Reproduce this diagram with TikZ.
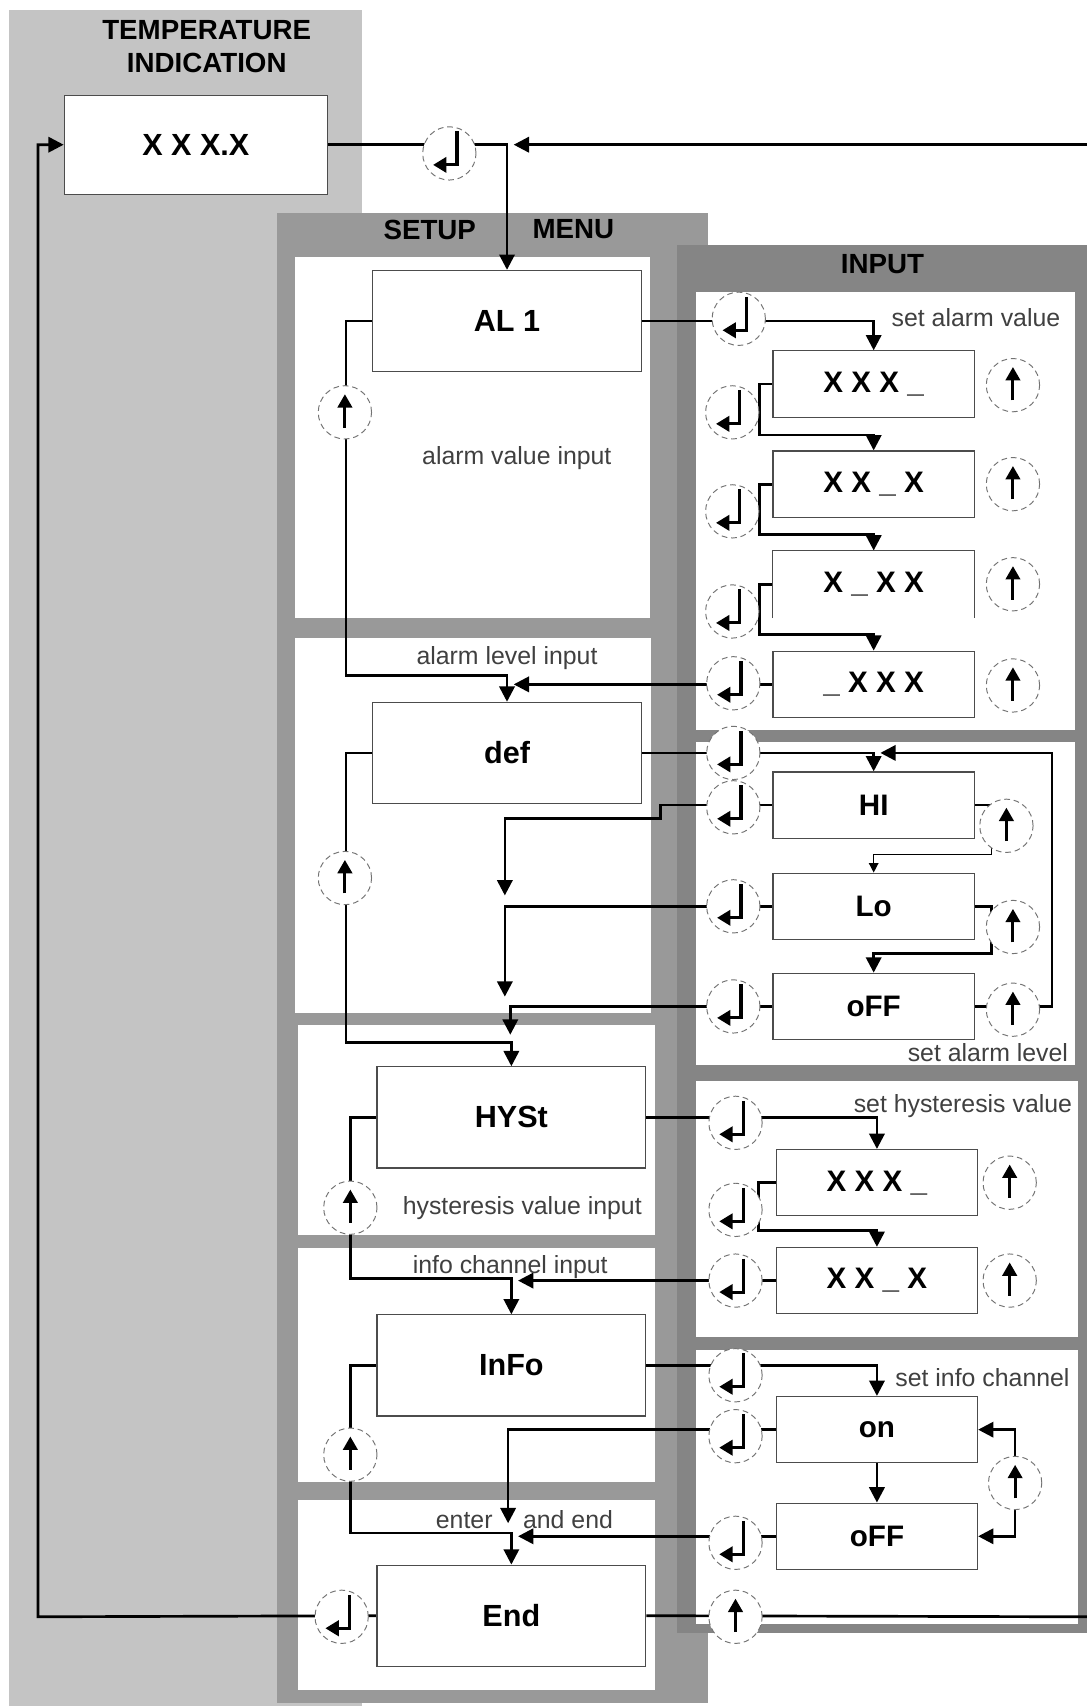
\documentclass[tikz,border=0pt]{standalone}
\usepackage{fontspec}
\setmainfont{Liberation Sans}
\usetikzlibrary{arrows.meta}
\pgfdeclarelayer{panels}
\pgfdeclarelayer{wires}
\pgfsetlayers{panels,wires,main}
\tikzset{
  display/.style={draw=black!70, line width=0.6pt, fill=white, inner sep=0pt,
    minimum width=3.7cm, minimum height=1.22cm, font=\bfseries\fontsize{15.5}{17}\selectfont},
  menubox/.style={display, minimum width=4.94cm, minimum height=1.86cm, font=\bfseries\fontsize{16}{18}\selectfont},
  button/.style={circle, draw=black!55, densely dashed, line width=0.5pt, fill=white,
    minimum size=0.98cm, inner sep=0pt},
  enterkey/.style={button, path picture={
      \draw[solid, black, line width=1.6pt, -{Triangle[length=7pt,width=8pt]}]
        ([shift={(4pt,11.5pt)}]path picture bounding box.center) -- ++(0,-17.5pt) -- ++(-12.5pt,0);}},
  upkey/.style={button, path picture={
      \draw[solid, black, line width=1.6pt, -{Triangle[length=7pt,width=7.5pt]}]
        ([shift={(0,-8pt)}]path picture bounding box.center) -- ++(0,17.5pt);}},
  wire/.style={line width=1.4pt},
  arr/.style={wire, -{Triangle[length=8pt,width=8pt]}},
  thinarr/.style={line width=0.7pt, -{Triangle[length=5pt,width=5pt]}},
  caption/.style={text=black!75, font=\fontsize{13}{15}\selectfont, inner sep=0pt},
  heading/.style={font=\bfseries\fontsize{14.5}{17}\selectfont, inner sep=0pt},
}
\begin{document}
\begin{tikzpicture}[x=0.02cm, y=-0.02cm]
\useasboundingbox (0,0) rectangle (999,1568);
% background panels
\begin{pgfonlayer}{panels}
  \fill[black!23] (8,9) rectangle (333,1568);
  \fill[black!40] (255,196) rectangle (651,1565);
  \fill[black!48] (622,225) rectangle (999,1501);
  \fill[white] (271,236) rectangle (597,568);
  \fill[white] (271,586) rectangle (598,931);
  \fill[white] (274,942) rectangle (602,1135);
  \fill[white] (274,1147) rectangle (602,1362);
  \fill[white] (274,1379) rectangle (602,1553);
  \fill[white] (640,268) rectangle (988,671);
  \fill[white] (640,682) rectangle (988,979);
  \fill[white] (640,994) rectangle (991,1229);
  \fill[white] (640,1241) rectangle (991,1493);
\end{pgfonlayer}

\node[heading, align=center] (title) at (190,43) {TEMPERATURE\\INDICATION};
\node[heading] (setup) at (395,211) {SETUP};
\node[heading] (menu) at (527,211) {MENU};
\node[heading] (input) at (811,243) {INPUT};

% menu displays
\node[menubox, minimum width=4.84cm, minimum height=1.82cm] (temp) at (180,133) {X X X.X};
\node[menubox] (al1) at (466,295) {AL 1};
\node[menubox] (def) at (466,692) {def};
\node[menubox] (hyst) at (470,1027) {HYSt};
\node[menubox] (info) at (470,1255) {InFo};
\node[menubox] (fin) at (470,1485) {End};

% input displays
\node[display] (av1) at (803,353) {X X X \_};
\node[display] (av2) at (803,445) {X X \_ X};
\node[display, draw=none] (av3) at (803,537) {X \_ X X};
\draw[black!70, line width=0.6pt] (av3.south west) |- (av3.north east) -- (av3.south east);
\node[display] (av4) at (803,629) {\_ X X X};
\node[display] (hi) at (803,740) {HI};
\node[display] (lo) at (803,833) {Lo};
\node[display] (aloff) at (803,925) {oFF};
\node[display] (hv1) at (806,1087) {X X X \_};
\node[display] (hv2) at (806,1177) {X X \_ X};
\node[display] (on) at (806,1314) {on};
\node[display] (inoff) at (806,1412) {oFF};

% keys
\node[enterkey] (k0) at (413,141) {};
\node[upkey] (u1) at (317,379) {};
\node[upkey] (u2) at (317,807) {};
\node[upkey] (u3) at (322,1110) {};
\node[upkey] (u4) at (322,1337) {};
\node[enterkey] (kend) at (314,1486) {};
\node[enterkey] (ka1) at (679,293) {};
\node[enterkey] (ka2) at (673,379) {};
\node[enterkey] (ka3) at (673,470) {};
\node[enterkey] (ka4) at (673,562) {};
\node[enterkey] (ka5) at (674,628) {};
\node[upkey] (ua1) at (931,354) {};
\node[upkey] (ua2) at (931,445) {};
\node[upkey] (ua3) at (931,537) {};
\node[upkey] (ua4) at (931,630) {};
\node[enterkey] (kl1) at (674,692) {};
\node[enterkey] (kl2) at (674,742) {};
\node[enterkey] (kl3) at (674,833) {};
\node[enterkey] (kl4) at (674,925) {};
\node[upkey] (ul1) at (925,759) {};
\node[upkey] (ul2) at (931,852) {};
\node[upkey] (ul3) at (931,928) {};
\node[enterkey] (kh1) at (676,1032) {};
\node[enterkey] (kh2) at (676,1112) {};
\node[enterkey] (kh3) at (676,1177) {};
\node[upkey] (uh1) at (928,1087) {};
\node[upkey] (uh2) at (928,1177) {};
\node[enterkey] (ki1) at (676,1264) {};
\node[enterkey] (ki2) at (676,1320) {};
\node[enterkey] (ki3) at (676,1418) {};
\node[upkey] (ui1) at (933,1363) {};
\node[upkey] (ui2) at (676,1486) {};

% captions
\node[caption] (lav) at (475,421) {alarm value input};
\node[caption] (lal) at (466,605) {alarm level input};
\node[caption] (lhv) at (480,1110) {hysteresis value input};
\node[caption] (lic) at (469,1165) {info channel input};
\node[caption] (len) at (482,1397) {enter\hspace{16pt}and end};
\node[caption] (sav) at (897,292) {set alarm value};
\node[caption] (sal) at (908,967) {set alarm level};
\node[caption] (shv) at (885,1017) {set hysteresis value};
\node[caption] (sic) at (903,1266) {set info channel};

\coordinate (rtop) at (999,133);
\coordinate (rbot) at (999,1486);
\coordinate (j1) at (464,823);
\coordinate (j2) at (464,916);
\coordinate (j3) at (469,951);
\coordinate (j4) at (467,1400);

\begin{pgfonlayer}{wires}
  % indication <-> setup menu
  \draw[arr] (temp.east) -| (al1.north);
  \draw[arr, shorten >=3.5pt] (rtop) -- (al1.north |- rtop);
  \draw[arr] (fin.west) -- (35,1486) |- (temp.west);
  \draw[wire] (fin.east) -- (rbot);
  % up keys in the menu
  \draw[arr] (al1.west) -| (318,621) -| (def.north);
  \draw[arr] (def.west) -| (318,958) -| (hyst.north);
  \draw[arr] (hyst.west) -| (322,1175) -| (info.north);
  \draw[arr] (info.west) -| (322,1409) -| (fin.north);
  % alarm value
  \draw[arr] (al1.east) -| (av1.north);
  \draw[arr] (av1.west) -- ++(-12,0) |- ([yshift=8pt]av2.north) -- (av2.north);
  \draw[arr] (av2.west) -- ++(-12,0) |- ([yshift=8.5pt]av3.north) -- (av3.north);
  \draw[arr] (av3.west) -- ++(-12,0) |- ([yshift=8.5pt]av4.north) -- (av4.north);
  \draw[arr, shorten >=3.5pt] (av4.west) -- (def.north |- av4.west);
  % alarm level
  \draw[arr] (def.east) -| (hi.north);
  \draw[arr, shorten >=3.5pt] (aloff.east) -- ++(71,0) |- (hi.north |- def.east);
  \draw[thinarr] (hi.east) -- ++(15,0) |- ([yshift=9.5pt]lo.north) -- (lo.north);
  \draw[arr] (lo.east) -- ++(15,0) |- ([yshift=10pt]aloff.north) -- (aloff.north);
  \draw[arr] (hi.west) -- (607,740) -- (607,752) -| (j1);
  \draw[arr] (lo.west) -| (j2);
  \draw[arr] (aloff.west) -| (j3);
  % hysteresis value
  \draw[arr] (hyst.east) -| (hv1.north);
  \draw[arr] (hv1.west) -- ++(-16,0) |- ([yshift=8.5pt]hv2.north) -- (hv2.north);
  \draw[arr, shorten >=3.5pt] (hv2.west) -- (info.north |- hv2.west);
  % info channel
  \draw[arr] (info.east) -| (on.north);
  \draw[arr] (on.south) -- (inoff.north);
  \draw[arr] (ui1.north) |- (on.east);
  \draw[arr] (ui1.south) |- (inoff.east);
  \draw[arr] (on.west) -| (j4);
  \draw[arr, shorten >=3.5pt] (inoff.west) -- (fin.north |- inoff.west);
\end{pgfonlayer}
\end{tikzpicture}
\end{document}
